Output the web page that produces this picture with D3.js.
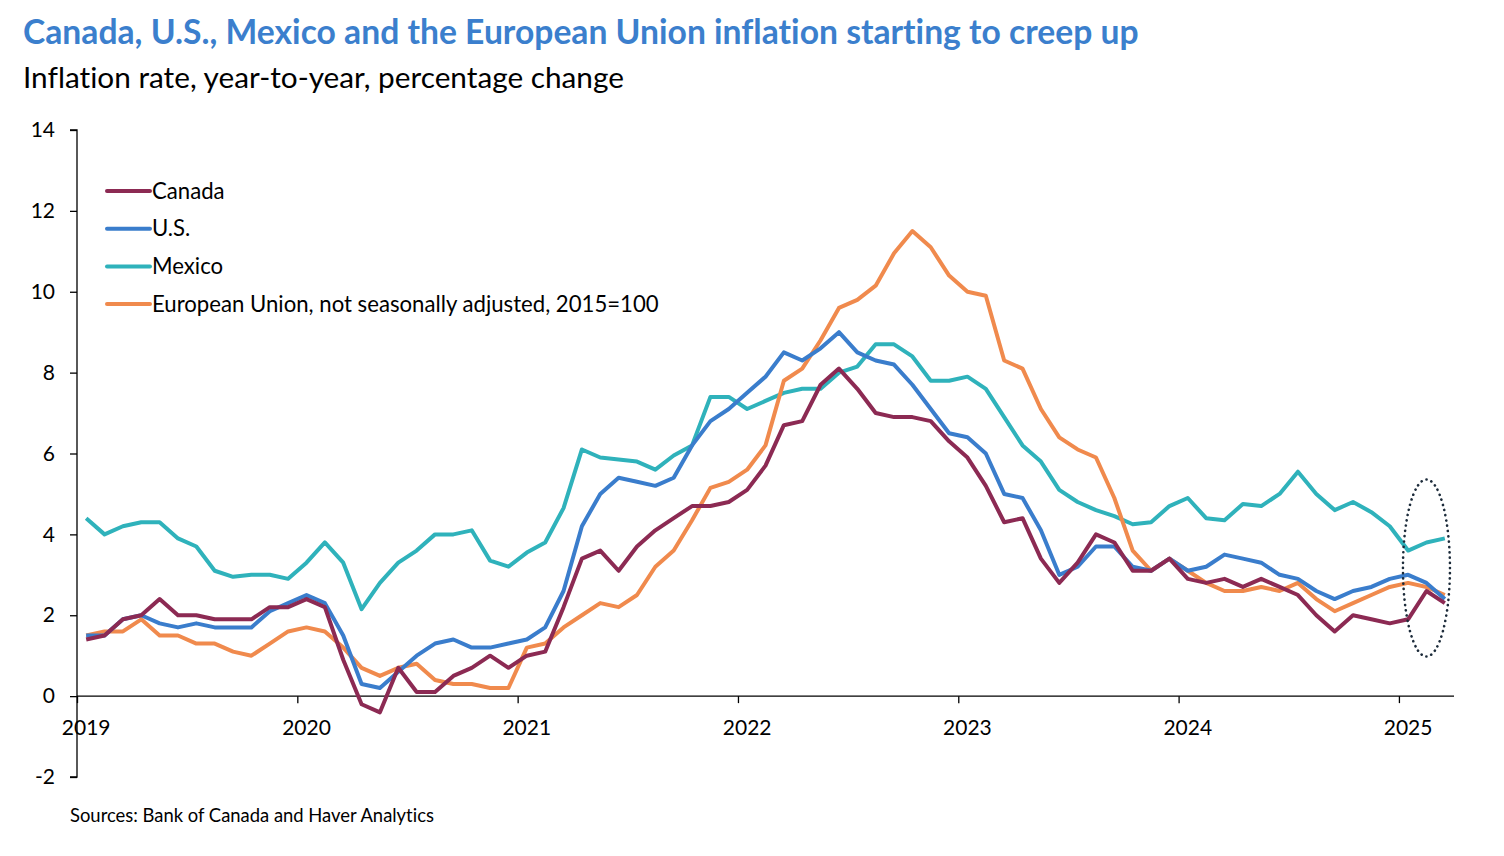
<!doctype html>
<html lang="en">
<head>
<meta charset="utf-8">
<title>Inflation rates</title>
<style>
  body { margin: 0; background: #fff; }
  svg { display: block; font-family: Lato, "Noto Sans", sans-serif; font-variant-ligatures: none; }
  .axis path, .axis line { stroke: #000; stroke-width: 1.3px; }
  .axis text { font-size: 21px; fill: #000; font-family: Lato, "Noto Sans", sans-serif; }
  .series { fill: none; stroke-width: 4px; stroke-linejoin: round; }
</style>
</head>
<body>
<svg id="chart" width="1504" height="856"></svg>
<script src="https://cdn.jsdelivr.net/npm/d3@7"></script>
<script>
// monthly values, Jan 2019 .. Mar 2025
const startYear = 2019;
const years = [2019, 2020, 2021, 2022, 2023, 2024, 2025];
const yTicks = [-2, 0, 2, 4, 6, 8, 10, 12, 14];

const canada = [
  1.4, 1.5, 1.9, 2.0, 2.4, 2.0, 2.0, 1.9, 1.9, 1.9, 2.2, 2.2,
  2.4, 2.2, 0.9, -0.2, -0.4, 0.7, 0.1, 0.1, 0.5, 0.7, 1.0, 0.7,
  1.0, 1.1, 2.2, 3.4, 3.6, 3.1, 3.7, 4.1, 4.4, 4.7, 4.7, 4.8,
  5.1, 5.7, 6.7, 6.8, 7.7, 8.1, 7.6, 7.0, 6.9, 6.9, 6.8, 6.3,
  5.9, 5.2, 4.3, 4.4, 3.4, 2.8, 3.3, 4.0, 3.8, 3.1, 3.1, 3.4,
  2.9, 2.8, 2.9, 2.7, 2.9, 2.7, 2.5, 2.0, 1.6, 2.0, 1.9, 1.8,
  1.9, 2.6, 2.3
];
const us = [
  1.5, 1.5, 1.9, 2.0, 1.8, 1.7, 1.8, 1.7, 1.7, 1.7, 2.1, 2.3,
  2.5, 2.3, 1.5, 0.3, 0.2, 0.6, 1.0, 1.3, 1.4, 1.2, 1.2, 1.3,
  1.4, 1.7, 2.6, 4.2, 5.0, 5.4, 5.3, 5.2, 5.4, 6.2, 6.8, 7.1,
  7.5, 7.9, 8.5, 8.3, 8.6, 9.0, 8.5, 8.3, 8.2, 7.7, 7.1, 6.5,
  6.4, 6.0, 5.0, 4.9, 4.1, 3.0, 3.2, 3.7, 3.7, 3.2, 3.1, 3.4,
  3.1, 3.2, 3.5, 3.4, 3.3, 3.0, 2.9, 2.6, 2.4, 2.6, 2.7, 2.9,
  3.0, 2.8, 2.4
];
const mexico = [
  4.4, 4.0, 4.2, 4.3, 4.3, 3.9, 3.7, 3.1, 2.95, 3.0, 3.0, 2.9,
  3.3, 3.8, 3.3, 2.15, 2.8, 3.3, 3.6, 4.0, 4.0, 4.1, 3.35, 3.2,
  3.55, 3.8, 4.65, 6.1, 5.9, 5.85, 5.8, 5.6, 5.95, 6.2, 7.4, 7.4,
  7.1, 7.3, 7.5, 7.6, 7.6, 8.0, 8.15, 8.7, 8.7, 8.4, 7.8, 7.8,
  7.9, 7.6, 6.9, 6.2, 5.8, 5.1, 4.8, 4.6, 4.45, 4.25, 4.3, 4.7,
  4.9, 4.4, 4.35, 4.75, 4.7, 5.0, 5.55, 5.0, 4.6, 4.8, 4.55, 4.2,
  3.6, 3.8, 3.9
];
const eu = [
  1.5, 1.6, 1.6, 1.9, 1.5, 1.5, 1.3, 1.3, 1.1, 1.0, 1.3, 1.6,
  1.7, 1.6, 1.2, 0.7, 0.5, 0.7, 0.8, 0.4, 0.3, 0.3, 0.2, 0.2,
  1.2, 1.3, 1.7, 2.0, 2.3, 2.2, 2.5, 3.2, 3.6, 4.35, 5.15, 5.3,
  5.6, 6.2, 7.8, 8.1, 8.8, 9.6, 9.8, 10.15, 10.95, 11.5, 11.1, 10.4,
  10.0, 9.9, 8.3, 8.1, 7.1, 6.4, 6.1, 5.9, 4.9, 3.6, 3.1, 3.4,
  3.1, 2.8, 2.6, 2.6, 2.7, 2.6, 2.8, 2.4, 2.1, 2.3, 2.5, 2.7,
  2.8, 2.7, 2.5
];

const seriesNames = ["Canada", "U.S.", "Mexico", "European Union, not seasonally adjusted, 2015=100"];
const seriesValues = [canada, us, mexico, eu];
const seriesColors = ["#8c2a53", "#3a7dcc", "#2fb2bb", "#f08a4d"];
// draw order: Mexico and EU under, then US, Canada on top
const drawOrder = [2, 3, 1, 0];

const svg = d3.select("#chart");

const nMonths = canada.length;
const x = d3.scaleLinear().domain([0, 75]).range([77, 1454]);
const y = d3.scaleLinear().domain([-2, 14]).range([777, 130]);

// fit a text element to a target width by scaling its font size
function fit(sel, width) {
  const node = sel.node();
  const fs = parseFloat(sel.attr("font-size"));
  const w = node.getComputedTextLength();
  if (w > 0) sel.attr("font-size", (fs * width / w).toFixed(2));
  return sel;
}

// title + subtitle
fit(svg.append("text").attr("x", 23).attr("y", 44)
  .attr("font-size", 32).attr("font-weight", 700).attr("fill", "#3b7fcd")
  .text("Canada, U.S., Mexico and the European Union inflation starting to creep up"), 1116);
fit(svg.append("text").attr("x", 23).attr("y", 88)
  .attr("font-size", 28).attr("fill", "#000")
  .text("Inflation rate, year-to-year, percentage change"), 601);

// y axis (plain hyphen for negatives, like the original)
const yAxis = svg.append("g").attr("class", "axis")
  .attr("transform", "translate(77,0)")
  .call(d3.axisLeft(y).tickValues(yTicks).tickSize(7).tickPadding(15).tickFormat(d => String(d)));
yAxis.select(".domain").attr("d", `M-7,${y(14)}H0V${y(-2)}H-7`);

// x axis along zero
const xAxis = svg.append("g").attr("class", "axis")
  .attr("transform", `translate(0,${y(0)})`)
  .call(d3.axisBottom(x).tickValues(years.map(yr => (yr - startYear) * 12)).tickSize(7).tickFormat(""));
xAxis.select(".domain").attr("d", `M${x(0)},0H${x(75)}`);

svg.append("g").attr("class", "axis")
  .selectAll("text").data(years).join("text")
  .attr("x", yr => x((yr - startYear) * 12 + 0.5))
  .attr("y", y(0) + 39)
  .attr("text-anchor", "middle")
  .text(yr => yr);

// lines
const line = d3.line().x((d, i) => x(i + 0.5)).y(d => y(d));
svg.append("g").selectAll("path").data(drawOrder).join("path")
  .attr("class", "series")
  .attr("stroke", k => seriesColors[k])
  .attr("d", k => line(seriesValues[k]));

// legend
const legend = svg.append("g").selectAll("g").data(seriesNames).join("g")
  .attr("transform", (d, i) => `translate(107,${191 + i * 37.7})`);
legend.append("line").attr("x1", 0).attr("x2", 43)
  .attr("stroke", (d, i) => seriesColors[i]).attr("stroke-width", 4).attr("stroke-linecap", "round");
const legendText = legend.append("text").attr("x", 45).attr("y", 7.5)
  .attr("font-size", 21).attr("fill", "#000").text(d => d);
const legendSize = fit(legendText.filter((d, i) => i === 3), 507).attr("font-size");
legendText.attr("font-size", legendSize);

// dotted ellipse around the latest readings
svg.append("ellipse")
  .attr("cx", x(nMonths - 1.5)).attr("cy", 568).attr("rx", 23.5).attr("ry", 88.5)
  .attr("fill", "none").attr("stroke", "#1c2b3a").attr("stroke-width", 2.6)
  .attr("stroke-dasharray", "0.1 5.2").attr("stroke-linecap", "round");

// source
fit(svg.append("text").attr("x", 70).attr("y", 822).attr("font-size", 17).attr("fill", "#000")
  .text("Sources: Bank of Canada and Haver Analytics"), 364);
</script>
</body>
</html>
